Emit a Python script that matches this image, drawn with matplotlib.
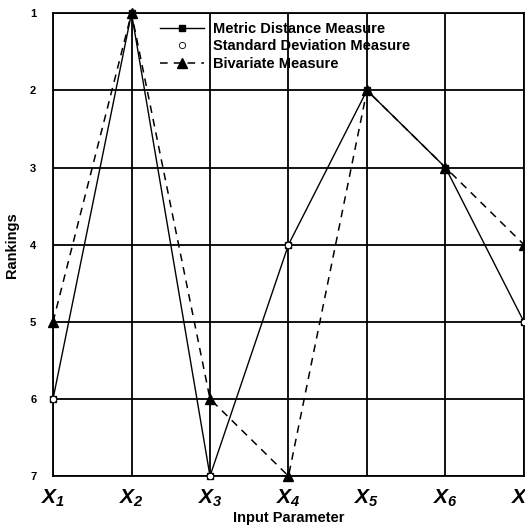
import numpy as np
import matplotlib
matplotlib.use("Agg")
from matplotlib import pyplot as plt

# Datos
params = ["X1", "X2", "X3", "X4", "X5", "X6", "X7"]
tick_labels = [r"$X_{%d}$" % (i + 1) for i in range(7)]
metric = [6, 1, 7, 4, 2, 3, 5]
std_dev = [6, 1, 7, 4, 2, 3, 5]
bivariate = [5, 1, 6, 7, 2, 3, 4]

plt.rcParams["font.family"] = ["Liberation Sans", "DejaVu Sans"]
# solo se usa mathtext para las etiquetas X_i, todo en cursiva
plt.rcParams["mathtext.fontset"] = "custom"
plt.rcParams["mathtext.it"] = "Liberation Sans:italic:bold"
plt.rcParams["mathtext.rm"] = "Liberation Sans:italic:bold"

fig = plt.figure(figsize=(5.25, 5.29), dpi=100)
ax = fig.add_axes([0.101, 0.100, 0.897, 0.875])

x = np.arange(len(params))

ax.plot(x, metric, color="black", linestyle="-", linewidth=1.0,
        marker="s", markersize=5, markerfacecolor="black",
        label="Metric Distance Measure", clip_on=False, zorder=3)
ax.plot(x, std_dev, color="black", linestyle="none",
        marker="o", markersize=4.5, markerfacecolor="white",
        markeredgewidth=0.6, label="Standard Deviation Measure",
        clip_on=False, zorder=4)
ax.plot(x, bivariate, color="black", linestyle=(0, (5, 4)), linewidth=1.1,
        marker="^", markersize=7, markerfacecolor="black",
        label="Bivariate Measure", clip_on=False, zorder=5)

ax.set_xlim(0, 6)
ax.set_ylim(7, 1)
ax.set_xticks(x)
ax.set_xticklabels(tick_labels, fontsize=15)
ax.set_yticks(range(1, 8))
ax.set_yticklabels([str(i) for i in range(1, 8)], fontsize=8, fontweight="bold")
ax.tick_params(length=0, pad=12)
ax.tick_params(axis="x", pad=8)

ax.grid(True, color="black", linewidth=1.3)
for s in ax.spines.values():
    s.set_linewidth(1.3)

ax.set_xlabel("Input Parameter", fontsize=10.5, fontweight="bold", labelpad=2)
ax.set_ylabel("Rankings", fontsize=10.5, fontweight="bold", labelpad=8)

leg = ax.legend(loc="upper left", bbox_to_anchor=(0.2, 1.01), frameon=False,
                handlelength=3, handletextpad=0.6,
                labelspacing=0.25, prop={"weight": "bold", "size": 10.5})

fig.savefig("out.png", dpi=100, facecolor="white")
